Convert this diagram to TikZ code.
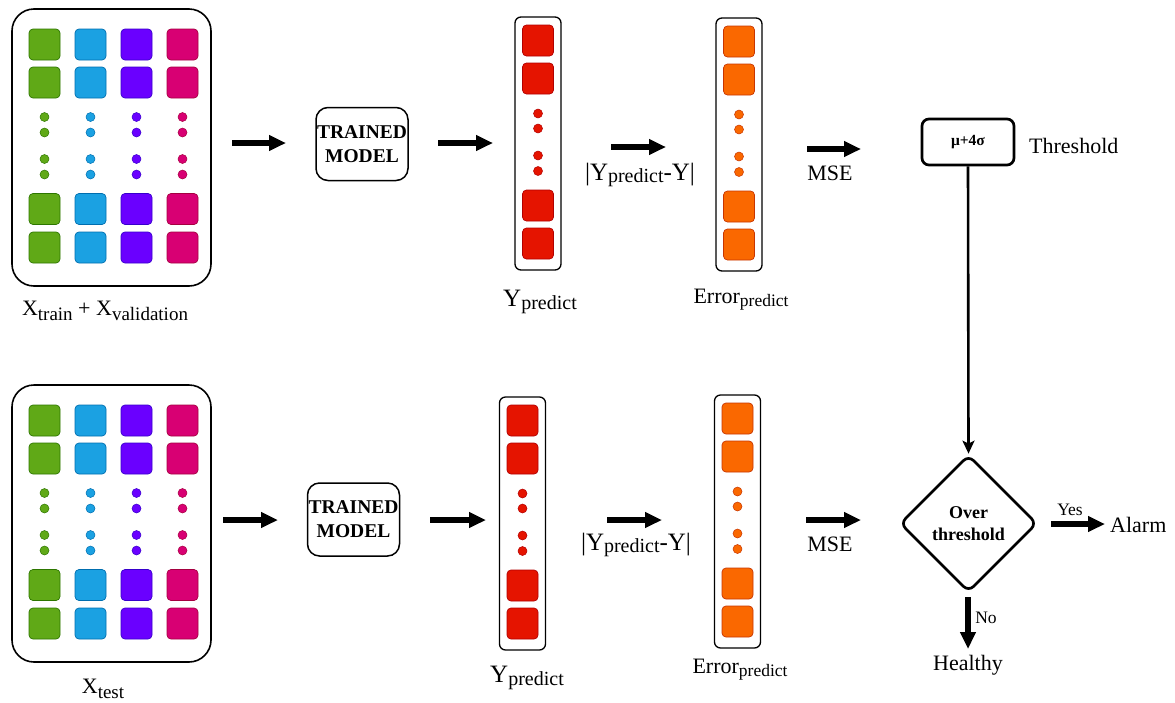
\documentclass[tikz,border=0pt]{standalone}
\usepackage{fontspec}
\setmainfont{Liberation Serif}
\usetikzlibrary{arrows.meta,shapes.geometric}

\definecolor{gFill}{HTML}{60A917}\definecolor{gLine}{HTML}{2D7600}
\definecolor{bFill}{HTML}{1BA1E2}\definecolor{bLine}{HTML}{006EAF}
\definecolor{pFill}{HTML}{6A00FF}\definecolor{pLine}{HTML}{3700CC}
\definecolor{mFill}{HTML}{D80073}\definecolor{mLine}{HTML}{A50040}
\definecolor{rFill}{HTML}{E51400}\definecolor{rLine}{HTML}{B20000}
\definecolor{oFill}{HTML}{FA6800}\definecolor{oLine}{HTML}{C73500}

% subscript-like text: size, drop, text
\newcommand\lowtxt[3]{\raisebox{-#2}{\fontsize{#1}{#1}\selectfont #3}}

\tikzset{
  cell/.style 2 args={draw=#2, fill=#1, line width=0.7pt, rounded corners=4pt,
    minimum size=31pt, inner sep=0pt},
  dotnode/.style 2 args={circle, draw=#2, fill=#1, line width=0.5pt,
    minimum size=9pt, inner sep=0pt},
  panelbox/.style={draw, line width=1.6pt, rounded corners=22pt,
    minimum width=199pt, minimum height=277pt, inner sep=0pt},
  colbox/.style={draw, line width=1.3pt, rounded corners=6pt,
    minimum width=46pt, minimum height=253pt, inner sep=0pt},
  modelbox/.style={draw, line width=1.5pt, rounded corners=12pt,
    minimum width=92pt, minimum height=73pt, inner sep=0pt, align=center,
    font=\fontsize{19.5}{24}\selectfont\bfseries},
  threshbox/.style={draw, line width=2.7pt, rounded corners=7pt,
    minimum width=92pt, minimum height=46pt, inner sep=0pt,
    font=\fontsize{15.5}{18}\selectfont\bfseries},
  decision/.style={diamond, draw, line width=2.7pt, rounded corners=7pt,
    minimum width=137pt, minimum height=137pt, inner sep=0pt, align=center,
    font=\fontsize{18}{22}\selectfont\bfseries},
  fatarrow/.style={line width=5.5pt, -{Triangle[length=17pt,width=15pt]}},
  thinarrow/.style={line width=2.6pt, -{Stealth[length=13pt,width=12pt,inset=3pt]}},
  lbl/.style={font=\fontsize{22}{26}\selectfont, inner sep=0pt, anchor=base},
  ylbl/.style={font=\fontsize{25}{28}\selectfont, inner sep=0pt, anchor=base},
  small/.style={font=\fontsize{17.5}{20}\selectfont, inner sep=0pt, anchor=base},
}

% input feature panel: name, top edge y
\newcommand\datapanel[2]{%
  \node[panelbox] (#1) at (111.5,#2+138.5) {};
  \foreach \cx/\fc/\lc [count=\i] in {44.5/gFill/gLine,90.5/bFill/bLine,136.5/pFill/pLine,182.5/mFill/mLine}{
    \foreach \ry [count=\j] in {35.5,73.5,200,238.5}
      \node[cell={\fc}{\lc}] (#1-\i-\j) at (\cx,#2+\ry) {};
    \foreach \dy [count=\j] in {108,123.5,150,165.5}
      \node[dotnode={\fc}{\lc}] (#1-d\i-\j) at (\cx,#2+\dy) {};
  }%
}

% output vector column: name, centre x, top edge y, fill, line
\newcommand\vectorcol[5]{%
  \node[colbox] (#1) at (#2,#3+126.5) {};
  \foreach \ry [count=\j] in {23.5,61.5,188.5,226.5}
    \node[cell={#4}{#5}] (#1-\j) at (#2,#3+\ry) {};
  \foreach \dy [count=\j] in {96.5,111.5,138.5,154}
    \node[dotnode={#4}{#5}] (#1-d\j) at (#2,#3+\dy) {};
}

\begin{document}
\begin{tikzpicture}[x=1pt,y=-1pt]
\useasboundingbox (0,0) rectangle (1175,702);

%% training / validation branch
\datapanel{trainset}{9}
\node[lbl] (trainlbl) at (105,315) {X\lowtxt{19}{5pt}{train} + X\lowtxt{19}{5pt}{validation}};
\node[modelbox] (modelA) at (362,144) {TRAINED\\MODEL};
\vectorcol{predA}{538}{17}{rFill}{rLine}
\node[ylbl] (predAlbl) at (540,306) {Y\lowtxt{20}{3pt}{predict}};
\vectorcol{errA}{739}{18}{oFill}{oLine}
\node[lbl] (errAlbl) at (741,303) {Error\lowtxt{17.5}{3.5pt}{predict}};
\node[threshbox] (thr) at (968,142) {μ+4σ};
\node[lbl, anchor=base west] (thrlbl) at (1029,153) {Threshold};

\coordinate (a1s) at (232,143); \coordinate (a1e) at (286,143);
\coordinate (a2s) at (438,143); \coordinate (a2e) at (493,143);
\coordinate (a3s) at (611,147); \coordinate (a3e) at (666,147);
\coordinate (a4s) at (807,149); \coordinate (a4e) at (861,149);
\draw[fatarrow] (a1s) -- (a1e);
\draw[fatarrow] (a2s) -- (a2e);
\draw[fatarrow] (a3s) -- (a3e);
\draw[fatarrow] (a4s) -- (a4e);
\node[ylbl] (diffA) at (640,180) {|Y\lowtxt{20}{2pt}{predict}-Y|};
\node[lbl] (mseA) at (830,180) {MSE};

%% test branch
\datapanel{testset}{385}
\node[lbl] (testlbl) at (103,693) {X\lowtxt{19}{5pt}{test}};
\node[modelbox] (modelB) at (353.5,519.5) {TRAINED\\MODEL};
\vectorcol{predB}{522.5}{397}{rFill}{rLine}
\node[ylbl] (predBlbl) at (527,682) {Y\lowtxt{20}{3pt}{predict}};
\vectorcol{errB}{737.5}{395}{oFill}{oLine}
\node[lbl] (errBlbl) at (740,673) {Error\lowtxt{17.5}{3.5pt}{predict}};

\coordinate (b1s) at (223,520); \coordinate (b1e) at (278,520);
\coordinate (b2s) at (430,520); \coordinate (b2e) at (486,520);
\coordinate (b3s) at (607,520); \coordinate (b3e) at (662,520);
\coordinate (b4s) at (806,520); \coordinate (b4e) at (861,520);
\draw[fatarrow] (b1s) -- (b1e);
\draw[fatarrow] (b2s) -- (b2e);
\draw[fatarrow] (b3s) -- (b3e);
\draw[fatarrow] (b4s) -- (b4e);
\node[ylbl] (diffB) at (636,550) {|Y\lowtxt{20}{2pt}{predict}-Y|};
\node[lbl] (mseB) at (830,551) {MSE};

%% decision
\node[decision] (dec) at (968.5,523.5) {Over\\threshold};
\draw[thinarrow] (thr.south) -- (dec.north);

\coordinate (yesS) at (1051,524); \coordinate (yesE) at (1105,524);
\draw[fatarrow] (yesS) -- (yesE);
\node[small] (yeslbl) at (1070,515) {Yes};
\node[lbl, anchor=base west] (alarm) at (1110,532) {Alarm};

\coordinate (noS) at (968,597); \coordinate (noE) at (968,649);
\draw[fatarrow] (noS) -- (noE);
\node[small] (nolbl) at (986,623) {No};
\node[lbl] (healthy) at (968,670) {Healthy};
\end{tikzpicture}
\end{document}
